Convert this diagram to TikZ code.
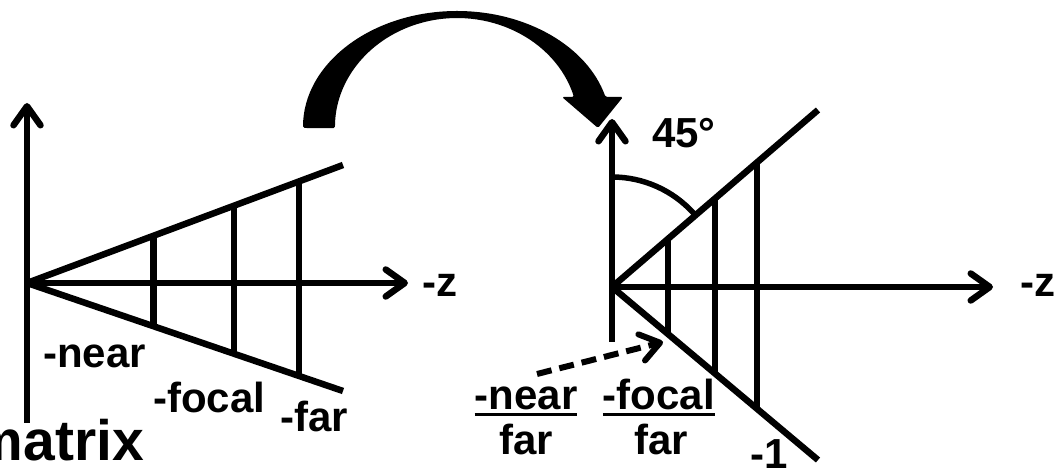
\documentclass[tikz,border=0pt]{standalone}
\usepackage{fontspec}
\setmainfont{Liberation Sans}
\usetikzlibrary{arrows.meta,positioning,calc}
\newcommand{\ulbox}[1]{\vtop{\hbox{#1}\kern3pt\hrule height 3pt}}
\tikzset{
  pj/axis/.style={line width=6.5pt, -{Straight Barb[length=19pt,width=27pt,round]}},
  pj/edge/.style={line width=6.5pt},
  pj/dashed/.style={pj/axis, line width=6pt, dash pattern=on 15pt off 8pt},
  pj/bend/.style={fill=black, rounded corners=1.5pt},
  pj/label/.style={font=\fontsize{42}{46}\selectfont\bfseries, inner sep=0pt},
  pj/title/.style={font=\fontsize{57}{60}\selectfont\bfseries, inner sep=0pt}
}

\begin{document}
\begin{tikzpicture}[x=1pt,y=1pt]
  \useasboundingbox (0,0) rectangle (1061,468);

  % view frustum before the mapping
  \coordinate (lo) at (27,185);
  \coordinate (ltop) at (27,365);
  \coordinate (lbot) at (27,45);
  \coordinate (lz) at (408,185);
  \coordinate (lup) at (343,303);
  \coordinate (llow) at (343,77);

  \draw[pj/axis] (lbot) -- (ltop);
  \draw[pj/axis] (lo) -- (lz);
  \draw[pj/edge] (lo) -- (lup);
  \draw[pj/edge] (lo) -- (llow);
  \foreach \t in {0.4,0.655,0.86}
    \draw[pj/edge] ($(lo)!\t!(lup)$) -- ($(lo)!\t!(llow)$);

  \node[pj/label, anchor=base west] (lzlab) at (422,171) {-z};
  \node[pj/label, anchor=base west] (lnear) at (43,100) {-near};
  \node[pj/label, anchor=base west] (lfocal) at (153,55) {-focal};
  \node[pj/label, anchor=base west] (lfar) at (280,36) {-far};
  \node[pj/title, anchor=base east] (title) at (144,7) {matrix};

  % the mapping arrow
  \fill[pj/bend] (303,340) arc[start angle=180, end angle=15.4, x radius=154pt, y radius=117pt]
    -- (623,371) -- (598,340) -- (562,371) -- (574,371)
    arc[start angle=16.4, end angle=180, x radius=122pt, y radius=110pt] -- cycle;

  % frustum after the mapping
  \coordinate (ro) at (612,181);
  \coordinate (rtop) at (612,349);
  \coordinate (rbot) at (612,126);
  \coordinate (rz) at (993,181);
  \coordinate (rup) at (818,358);
  \coordinate (rlow) at (818,8);

  \draw[pj/axis] (rbot) -- (rtop);
  \draw[pj/axis] (ro) -- (rz);
  \draw[pj/edge] (ro) -- (rup);
  \draw[pj/edge] (ro) -- (rlow);
  \foreach \t in {0.272,0.5,0.704}
    \draw[pj/edge] ($(ro)!\t!(rup)$) -- ($(ro)!\t!(rlow)$);
  \draw[pj/edge, line width=5.5pt] ($(ro)+(0,110)$) arc[start angle=90, end angle=42, radius=110pt];

  \node[pj/label, anchor=base west] (angle) at (652,320) {45°};
  \node[pj/label, anchor=base west] (rzlab) at (1020,171) {-z};
  \node[pj/label, anchor=base west] (rone) at (750,-1) {-1};

  \node[pj/label, anchor=base] (nearnum) at (526,58) {\ulbox{-near}};
  \node[pj/label, anchor=base] (nearden) at (526,13) {far};
  \node[pj/label, anchor=base] (focalnum) at (659,58) {\ulbox{-focal}};
  \node[pj/label, anchor=base] (focalden) at (661,13) {far};

  \coordinate (dstart) at (537,94);
  \coordinate (dend) at (663,126);
  \draw[pj/dashed] (dstart) -- (dend);
\end{tikzpicture}
\end{document}
